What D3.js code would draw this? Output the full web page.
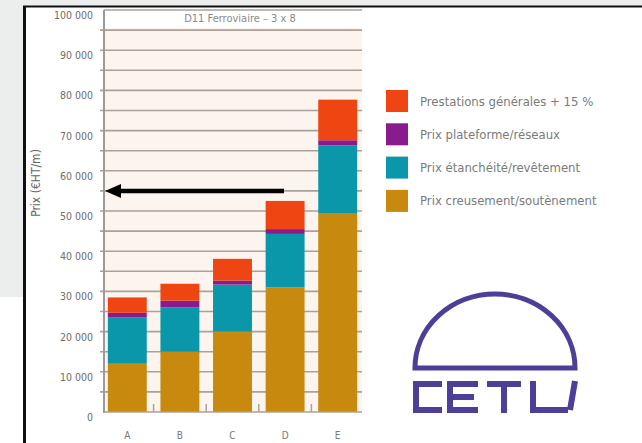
<!DOCTYPE html>
<html lang="fr">
<head>
<meta charset="utf-8">
<title>D11 Ferroviaire</title>
<script src="https://d3js.org/d3.v7.min.js"></script>
<style>
  body { margin: 0; background: #fff; }
  svg { display: block; }
  text { font-family: "Liberation Sans Narrow", "DejaVu Sans Condensed", "Roboto", sans-serif; }
</style>
</head>
<body>
<div id="chart"></div>
<script>
// data (EUR HT per metre)
var categories = ["A", "B", "C", "D", "E"];
var creusement = [12000, 15000, 20000, 31000, 49500];
var etancheite = [11500, 11000, 11700, 13300, 16800];
var plateforme = [1200, 1700, 1000, 1200, 1300];
var prestations = [3800, 4200, 5400, 7000, 10100];
var seriesNames = ["Prix creusement/soutènement", "Prix étanchéité/revêtement", "Prix plateforme/réseaux", "Prestations générales + 15 %"];
var seriesColors = ["#c8890f", "#0a97aa", "#8a1b8e", "#ef4512"];
var yTicks = [0, 10000, 20000, 30000, 40000, 50000, 60000, 70000, 80000, 90000, 100000];
var arrowValue = 55000;

var w = 642, h = 443;
var svg = d3.select("#chart").append("svg").attr("width", w).attr("height", h);

// page background / frame
svg.append("rect").attr("width", w).attr("height", h).attr("fill", "#fff");
svg.append("rect").attr("x", 0).attr("y", 0).attr("width", 24).attr("height", 297).attr("fill", "#eceeed");
svg.append("rect").attr("x", 0).attr("y", 0).attr("width", w).attr("height", 6).attr("fill", "#eceeed");
svg.append("line").attr("x1", 23).attr("x2", w).attr("y1", 6.5).attr("y2", 6.5).attr("stroke", "#111").attr("stroke-width", 2);
svg.append("line").attr("x1", 24.5).attr("x2", 24.5).attr("y1", 6).attr("y2", h).attr("stroke", "#111").attr("stroke-width", 3);

var pLeft = 104, pRight = 362, pTop = 10, pBottom = 412;
var x = d3.scaleBand().domain(categories).range([101, 364]).paddingInner(0.26).paddingOuter(0.13);
var y = d3.scaleLinear().domain([0, 100000]).range([pBottom, pTop]);

// plot background
svg.append("rect").attr("x", pLeft).attr("y", pTop).attr("width", pRight - pLeft).attr("height", pBottom - pTop).attr("fill", "#fcf4ee");
svg.append("rect").attr("x", pLeft).attr("y", pTop).attr("width", pRight - pLeft).attr("height", 18).attr("fill", "#fff");

// grid every 5000
var grid = d3.range(5000, 100000, 5000);
svg.append("g").selectAll("line").data(grid).enter().append("line")
  .attr("x1", pLeft - 4).attr("x2", pRight)
  .attr("y1", function(d) { return y(d); }).attr("y2", function(d) { return y(d); })
  .attr("stroke", "#aba198").attr("stroke-width", 1.6);
svg.append("line").attr("x1", pLeft).attr("x2", pRight).attr("y1", y(100000)).attr("y2", y(100000))
  .attr("stroke", "#aba198").attr("stroke-width", 1.6);

svg.append("text").attr("x", 240).attr("y", 22).attr("text-anchor", "middle")
  .attr("font-size", 11).attr("fill", "#8a8a8a").text("D11 Ferroviaire – 3 x 8");

// stacked bars
var rows = categories.map(function(c, i) {
  return { cat: c, s0: creusement[i], s1: etancheite[i], s2: plateforme[i], s3: prestations[i] };
});
var stack = d3.stack().keys(["s0", "s1", "s2", "s3"])(rows);
svg.append("g").selectAll("g").data(stack).enter().append("g")
  .attr("fill", function(d, i) { return seriesColors[i]; })
  .selectAll("rect").data(function(d) { return d; }).enter().append("rect")
  .attr("x", function(d) { return x(d.data.cat); })
  .attr("width", x.bandwidth())
  .attr("y", function(d) { return y(d[1]); })
  .attr("height", function(d) { return y(d[0]) - y(d[1]); });

// small ticks between bars at the base
svg.append("g").selectAll("line").data(categories.slice(1)).enter().append("line")
  .attr("x1", function(d) { return x(d) - x.step() * x.paddingInner() / 2; })
  .attr("x2", function(d) { return x(d) - x.step() * x.paddingInner() / 2; })
  .attr("y1", pBottom - 8).attr("y2", pBottom)
  .attr("stroke", "#aba198").attr("stroke-width", 1.5);

// axis lines
svg.append("line").attr("x1", pLeft).attr("x2", pLeft).attr("y1", pTop).attr("y2", pBottom + 1)
  .attr("stroke", "#9a9a9a").attr("stroke-width", 2);
svg.append("line").attr("x1", pLeft).attr("x2", pRight).attr("y1", pBottom).attr("y2", pBottom)
  .attr("stroke", "#aba198").attr("stroke-width", 1.5);

var fr = d3.formatLocale({ decimal: ",", thousands: " ", grouping: [3], currency: ["", ""] });
var fmt = fr.format(",");
svg.append("g").selectAll("text").data(yTicks).enter().append("text")
  .attr("x", 93).attr("y", function(d) { return y(d) + 9; })
  .attr("text-anchor", "end").attr("font-size", 10.5).attr("fill", "#6d6d6d")
  .text(function(d) { return fmt(d); });

svg.append("g").selectAll("text").data(categories).enter().append("text")
  .attr("x", function(d) { return x(d) + x.bandwidth() / 2; }).attr("y", 439)
  .attr("text-anchor", "middle").attr("font-size", 10).attr("fill", "#777")
  .text(function(d) { return d; });

svg.append("text").attr("transform", "translate(40,183) rotate(-90)")
  .attr("text-anchor", "middle").attr("font-size", 12).attr("fill", "#666")
  .text("Prix (€HT/m)");

// arrow
var ay = y(arrowValue);
svg.append("line").attr("x1", 284).attr("x2", 118).attr("y1", ay).attr("y2", ay)
  .attr("stroke", "#000").attr("stroke-width", 4.5);
svg.append("path").attr("d", "M105," + ay + " L121," + (ay - 7) + " L121," + (ay + 7) + " Z").attr("fill", "#000");

// legend
var legendOrder = [3, 2, 1, 0];
var leg = svg.append("g").selectAll("g").data(legendOrder).enter().append("g")
  .attr("transform", function(d, i) { return "translate(386," + (90 + i * 33.3) + ")"; });
leg.append("rect").attr("width", 22).attr("height", 22).attr("fill", function(d) { return seriesColors[d]; });
leg.append("text").attr("x", 34).attr("y", 15.5).attr("font-size", 13).attr("fill", "#7a7a7a")
  .text(function(d) { return seriesNames[d]; });

// CETU logo
var logo = svg.append("g").attr("fill", "none").attr("stroke", "#4b3f98").attr("stroke-width", 5);
logo.append("path").attr("d", "M415,368 A80,74 0 0 1 575,368 Z");
var letters = [
  "M442,384 H416 V410 H442",                 // C
  "M478,384 H450 V410 H478 M450,397 H474",   // E
  "M487,384 H521 M504,384 V413",             // T
  "M533,381 V410 H568 M575,381 L570,410"     // U
];
logo.append("g").attr("stroke-width", 6).selectAll("path").data(letters).enter().append("path")
  .attr("d", function(d) { return d; });
</script>
</body>
</html>
